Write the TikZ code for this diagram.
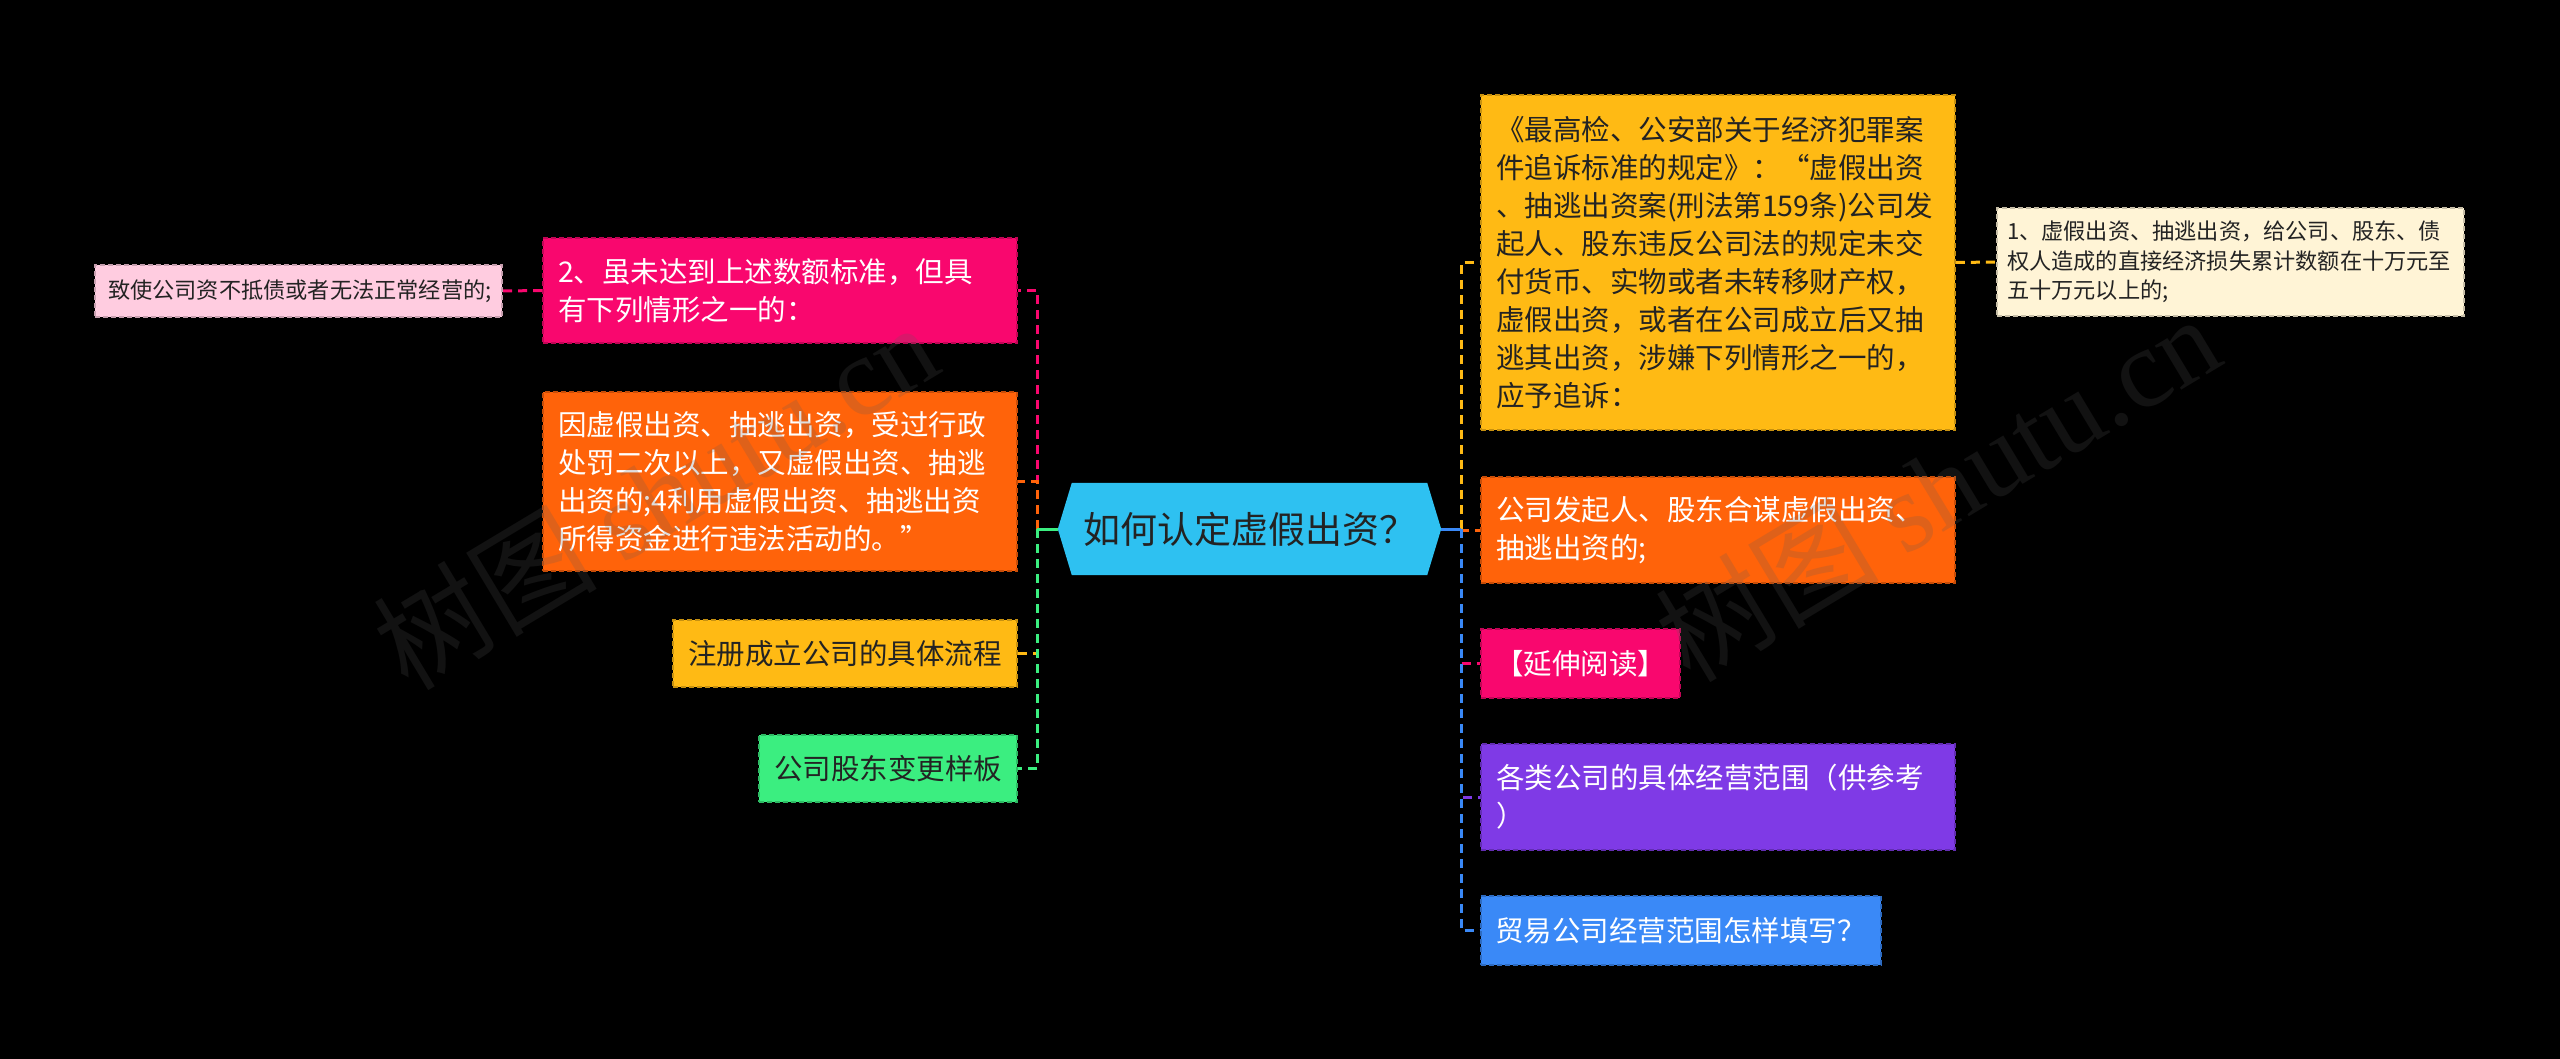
\documentclass[tikz,border=0pt]{standalone}
\usepackage{fontspec}
\setmainfont{Noto Sans CJK SC}
\newfontfamily\wmserif{Liberation Serif}
\usetikzlibrary{backgrounds}
\definecolor{cCyan}{HTML}{2EC1F1}
\definecolor{cYellow}{HTML}{FFBA14}
\definecolor{cOrange}{HTML}{FF630A}
\definecolor{cPink}{HTML}{F9076E}
\definecolor{cPurple}{HTML}{7F3AE6}
\definecolor{cBlue}{HTML}{3A89F7}
\definecolor{cGreen}{HTML}{3BEE80}
\definecolor{cCream}{HTML}{FFF4D6}
\definecolor{cLPink}{HTML}{FFCCE0}
\definecolor{cDark}{HTML}{232323}
\definecolor{cWM}{HTML}{5A5A5A}
\tikzset{
  mmbox/.style={rectangle, inner ysep=0pt, align=left, line width=1.6pt, dash pattern=on 5pt off 3pt},
  boxcol/.style={fill=#1, draw=#1!78!black},
  bigtxt/.style={font=\fontsize{28.5}{38}\selectfont},
  smalltxt/.style={font=\fontsize{22.2}{29.5}\selectfont},
  lighttxt/.style={text=white},
  darktxt/.style={text=cDark},
  dconn/.style={line width=3pt, dash pattern=on 9pt off 6pt},
  sconn/.style={line width=3pt},
  wm/.style={text=cWM, opacity=0.2, font=\fontsize{112}{112}\selectfont, inner sep=0pt},
}
\begin{document}
\begin{tikzpicture}[x=1pt,y=-1pt]
\begin{scope}[on background layer]
  \fill[black] (0,0) rectangle (2560,1059);
\end{scope}
\useasboundingbox (0,0) rectangle (2560,1059);

% central topic
\node[font=\fontsize{37}{37}\selectfont, text=cDark, minimum width=355pt, minimum height=92pt, inner sep=0pt] (c) at (1249.5,529) {如何认定虚假出资？};
\begin{scope}[on background layer]
  \fill[cCyan] (c.north west) -- (c.north east) -- ([xshift=14pt]c.east) -- (c.south east) -- (c.south west) -- ([xshift=-14pt]c.west) -- cycle;
\end{scope}
\coordinate (cR) at ([xshift=14pt]c.east);
\coordinate (cL) at ([xshift=-14pt]c.west);
\coordinate (jR) at (1461,529);
\coordinate (jL) at (1037,529);

% right side
\node[mmbox, bigtxt, darktxt, boxcol=cYellow, minimum width=474pt, minimum height=335pt, text width=444pt, inner xsep=15pt] (R1) at (1718,262.5)
 {《最高检、公安部关于经济犯罪案\\件追诉标准的规定》：“虚假出资\\、抽逃出资案(刑法第159条)公司发\\起人、股东违反公司法的规定未交\\付货币、实物或者未转移财产权，\\虚假出资，或者在公司成立后又抽\\逃其出资，涉嫌下列情形之一的，\\应予追诉：};
\node[mmbox, smalltxt, darktxt, boxcol=cCream, minimum width=467pt, minimum height=108pt, text width=447pt, inner xsep=10pt] (R1a) at (2230.5,262)
 {1、虚假出资、抽逃出资，给公司、股东、债\\权人造成的直接经济损失累计数额在十万元至\\五十万元以上的;};
\node[mmbox, bigtxt, lighttxt, boxcol=cOrange, minimum width=474pt, minimum height=106pt, text width=444pt, inner xsep=15pt] (R2) at (1718,530)
 {公司发起人、股东合谋虚假出资、\\抽逃出资的;};
\node[mmbox, bigtxt, lighttxt, boxcol=cPink, minimum width=199pt, minimum height=69pt, text width=171pt, inner xsep=14pt] (R3) at (1580.5,663.5)
 {【延伸阅读】};
\node[mmbox, bigtxt, lighttxt, boxcol=cPurple, minimum width=474pt, minimum height=106pt, text width=444pt, inner xsep=15pt] (R4) at (1718,797)
 {各类公司的具体经营范围（供参考\\）};
\node[mmbox, bigtxt, lighttxt, boxcol=cBlue, minimum width=400pt, minimum height=69pt, text width=372pt, inner xsep=14pt] (R5) at (1681,930.5)
 {贸易公司经营范围怎样填写？};

% left side
\node[mmbox, bigtxt, lighttxt, boxcol=cPink, minimum width=474pt, minimum height=105pt, text width=444pt, inner xsep=15pt] (L1) at (780,290.5)
 {2、虽未达到上述数额标准，但具\\有下列情形之一的：};
\node[mmbox, smalltxt, darktxt, boxcol=cLPink, minimum width=407pt, minimum height=52pt, text width=381pt, inner xsep=13pt] (L1a) at (298.5,291)
 {致使公司资不抵债或者无法正常经营的;};
\node[mmbox, bigtxt, lighttxt, boxcol=cOrange, minimum width=474pt, minimum height=179pt, text width=444pt, inner xsep=15pt] (L2) at (780,481.5)
 {因虚假出资、抽逃出资，受过行政\\处罚二次以上，又虚假出资、抽逃\\出资的;4利用虚假出资、抽逃出资\\所得资金进行违法活动的。”};
\node[mmbox, bigtxt, darktxt, boxcol=cYellow, minimum width=344pt, minimum height=67pt, text width=314pt, inner xsep=15pt] (L3) at (845,653.5)
 {注册成立公司的具体流程};
\node[mmbox, bigtxt, darktxt, boxcol=cGreen, minimum width=258pt, minimum height=67pt, text width=228pt, inner xsep=15pt] (L4) at (888,768.5)
 {公司股东变更样板};

% connectors
\begin{scope}[on background layer]
  \draw[dconn, cYellow] (jR) |- (R1.west);
  \draw[dconn, cOrange] (jR) |- (R2.west);
  \draw[dconn, cPink] (jR) |- (R3.west);
  \draw[dconn, cPurple] (jR) |- (R4.west);
  \draw[dconn, cBlue] (jR) |- (R5.west);
  \draw[sconn, cBlue] (cR) -- (jR);
  \draw[dconn, cYellow] (R1.east) -- (R1a.west);
  \draw[dconn, cPink] (jL) |- (L1.east);
  \draw[dconn, cOrange] (jL) |- (L2.east);
  \draw[dconn, cYellow] (jL) |- (L3.east);
  \draw[dconn, cGreen] (jL) |- (L4.east);
  \draw[sconn, cGreen] (cL) -- (jL);
  \draw[dconn, cPink] (L1.west) -- (L1a.east);
\end{scope}

% watermarks
\node[wm, rotate=31] (wmA) at (655,495) {树图 {\wmserif shutu.cn}};
\node[wm, rotate=31] (wmB) at (1937,487) {树图 {\wmserif shutu.cn}};
\end{tikzpicture}
\end{document}
